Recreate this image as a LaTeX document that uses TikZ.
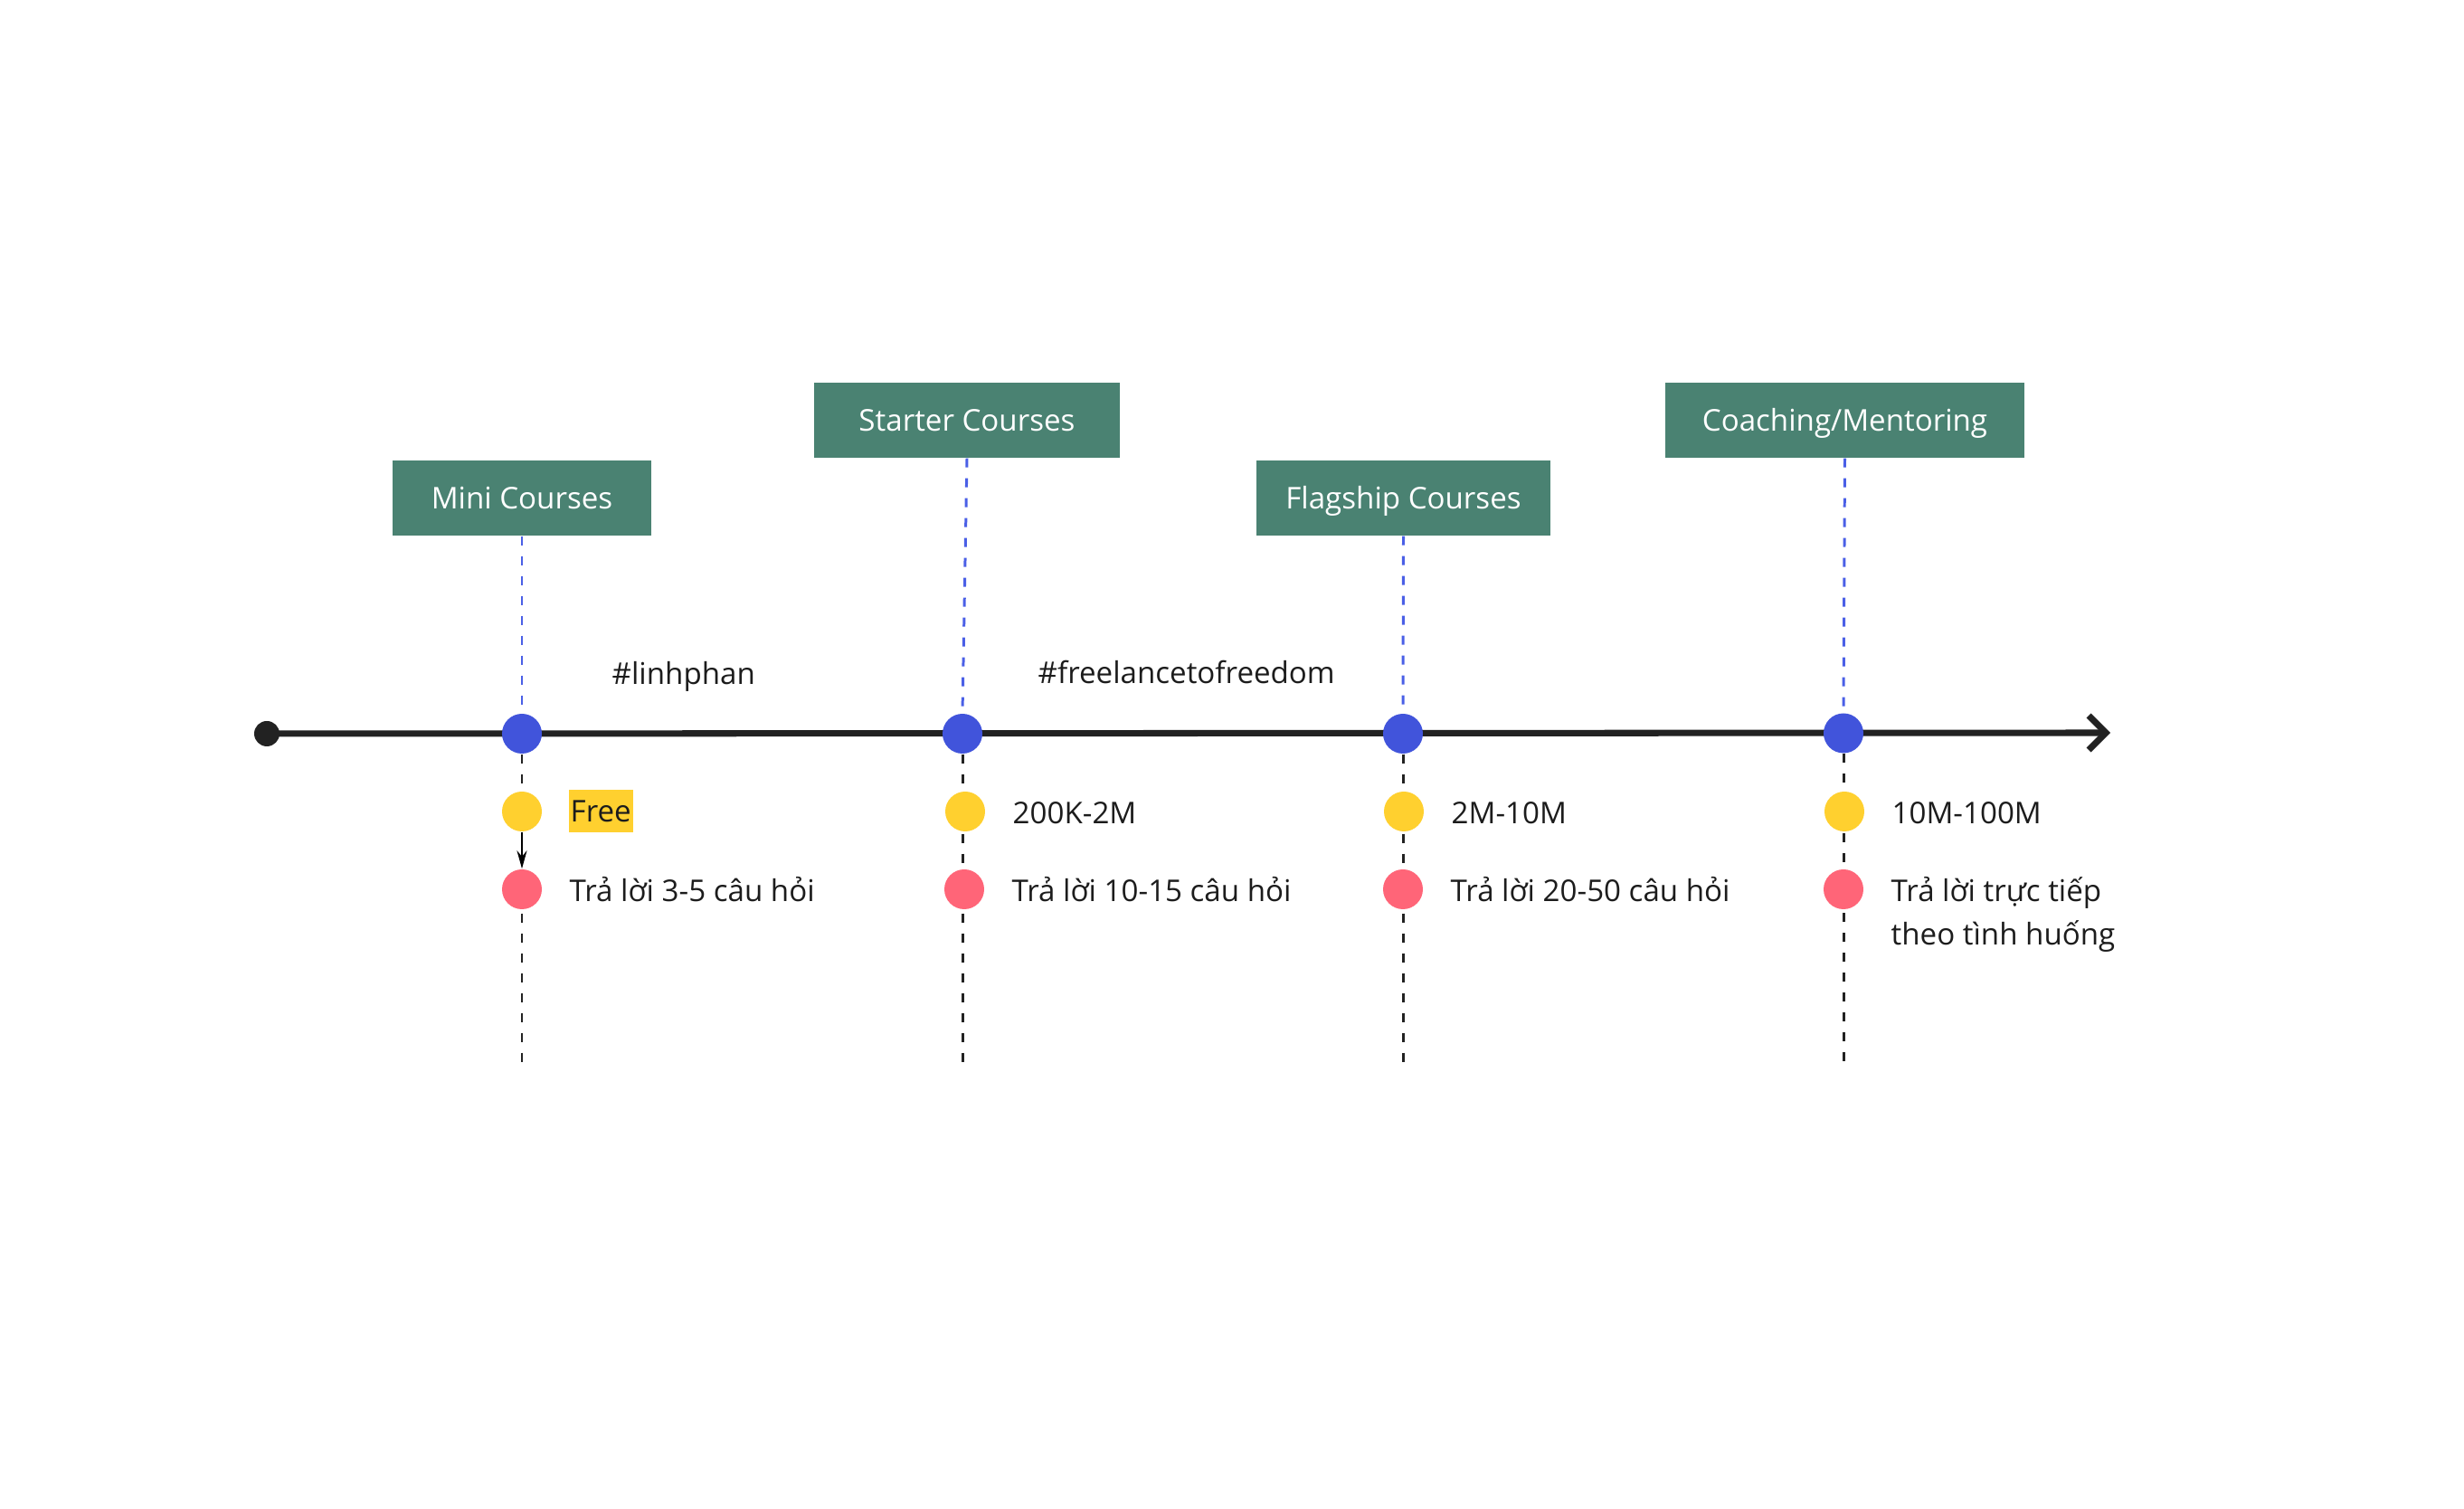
\documentclass[tikz,border=0pt]{standalone}
\usepackage{fontspec}
\setmainfont{Open Sans}
\usetikzlibrary{arrows.meta,backgrounds}

\definecolor{boxgreen}{HTML}{4A8272}
\definecolor{stopblue}{HTML}{4154DB}
\definecolor{linkblue}{HTML}{4A5FE6}
\definecolor{priceyellow}{HTML}{FFD02F}
\definecolor{answerred}{HTML}{FF6578}
\definecolor{axisgray}{HTML}{222222}
\definecolor{inkgray}{HTML}{1C1C1C}

\begin{document}
\begin{tikzpicture}[
    font=\fontsize{9.42}{13.66}\selectfont, text=inkgray,
    course/.style={fill=boxgreen, text=white, inner xsep=0.1cm, inner ysep=0cm,
      minimum height=0.83cm, text height=0.24cm, text depth=0cm},
    stop/.style={circle, fill=stopblue, minimum size=0.44cm, inner sep=0cm},
    price/.style={circle, fill=priceyellow, minimum size=0.44cm, inner sep=0cm},
    answer/.style={circle, fill=answerred, minimum size=0.44cm, inner sep=0cm},
    note/.style={anchor=base west, inner sep=0cm, xshift=0.52cm, yshift=-0.135cm, align=left},
    guide/.style={axisgray, line width=0.85pt, dash pattern=on 0.1cm off 0.12cm},
    link/.style={linkblue, line width=0.85pt, dash pattern=on 0.1cm off 0.12cm}
  ]
\useasboundingbox (0,0) rectangle (27.24,16.68);

% course boxes
\node[course, minimum width=2.86cm] (mini) at (5.77,11.175) {Mini Courses};
\node[course, minimum width=3.38cm] (starter) at (10.69,12.035) {Starter Courses};
\node[course, minimum width=3.25cm] (flagship) at (15.515,11.175) {Flagship Courses};
\node[course, minimum width=3.97cm] (coaching) at (20.395,12.035) {Coaching/Mentoring};

% timeline
\node[circle, fill=axisgray, minimum size=0.28cm, inner sep=0cm] (start) at (2.95,8.57) {};
\coordinate (end) at (23.33,8.58);
\node[stop] (p1) at (5.77,8.57) {};
\node[stop] (p2) at (10.64,8.57) {};
\node[stop] (p3) at (15.51,8.57) {};
\node[stop] (p4) at (20.38,8.575) {};

\node[anchor=base west, inner sep=0cm] (tag1) at (6.76,9.11) {\#linhphan};
\node[anchor=base west, inner sep=0cm] (tag2) at (11.47,9.12) {\#freelancetofreedom};

% prices and answers
\node[price] (y1) at (5.77,7.71) {};
\node[price] (y2) at (10.67,7.71) {};
\node[price] (y3) at (15.52,7.71) {};
\node[price] (y4) at (20.39,7.71) {};
\node[answer] (r1) at (5.77,6.85) {};
\node[answer] (r2) at (10.66,6.85) {};
\node[answer] (r3) at (15.51,6.85) {};
\node[answer] (r4) at (20.38,6.85) {};

\node[fill=priceyellow, anchor=west, xshift=0.51cm, inner xsep=0.02cm, inner ysep=0cm,
  minimum height=0.47cm, text height=0.24cm, text depth=0cm] (free) at (y1) {Free};
\node[note] (cost2) at (y2) {200K-2M};
\node[note] (cost3) at (y3) {2M-10M};
\node[note] (cost4) at (y4) {10M-100M};
\node[note] (reply1) at (r1) {Trả lời 3-5 câu hỏi};
\node[note] (reply2) at (r2) {Trả lời 10-15 câu hỏi};
\node[note] (reply3) at (r3) {Trả lời 20-50 câu hỏi};
\node[note, yshift=-0.48cm] (reply4) at (r4) {Trả lời trực tiếp\\theo tình huống};

\draw[-{Stealth[length=0.2cm,width=0.11cm]}, line width=0.6pt, black] (y1) -- (r1);

\begin{scope}[on background layer]
  \draw[line width=2pt, axisgray, -{Straight Barb[length=0.19cm,width=0.38cm]}] (start.center) -- (end);
  \draw[link] (mini.south) -- (p1.north);
  \draw[link] (starter.south) -- (p2.north);
  \draw[link] (flagship.south) -- (p3.north);
  \draw[link] (coaching.south) -- (p4.north);
  \foreach \i in {1,...,4}
    \draw[guide] (p\i.south) -- (p\i.south |- 0,4.90);
\end{scope}
\end{tikzpicture}
\end{document}
